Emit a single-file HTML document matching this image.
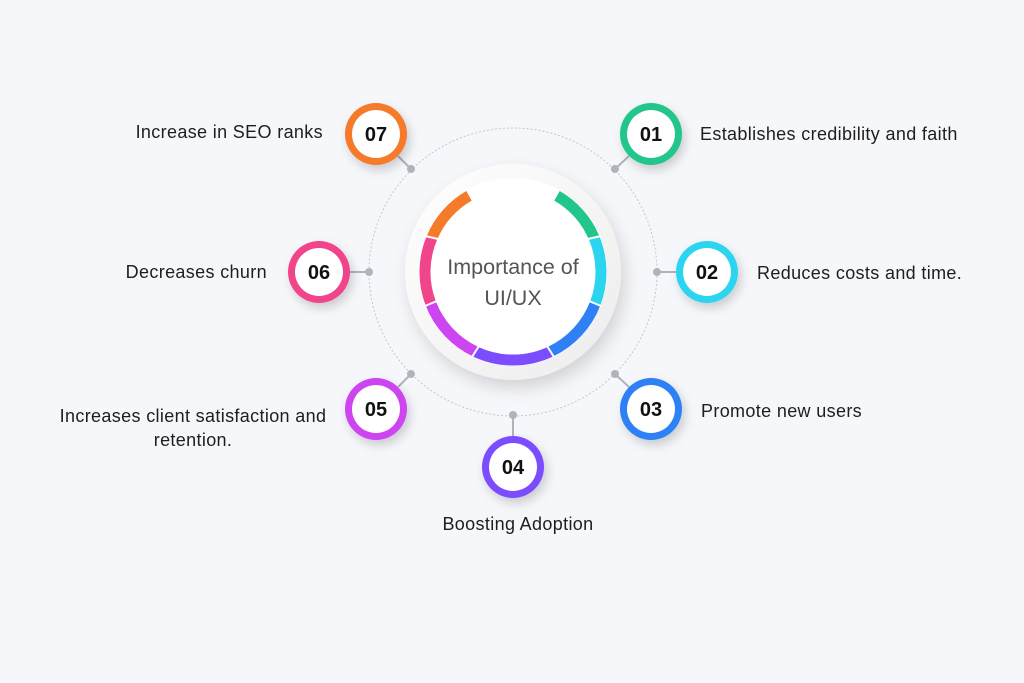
<!DOCTYPE html>
<html><head><meta charset="utf-8"><style>
html,body{margin:0;padding:0;background:#f6f7fb;}
svg{display:block}
text{font-family:"Liberation Sans",sans-serif;}
</style></head><body>
<svg width="1024" height="683" viewBox="0 0 1024 683" xmlns="http://www.w3.org/2000/svg">
<defs>
<filter id="sh" x="-30%" y="-30%" width="160%" height="160%"><feDropShadow dx="3" dy="5" stdDeviation="5" flood-color="#000" flood-opacity="0.18"/></filter>
<filter id="sh2" x="-30%" y="-30%" width="160%" height="160%"><feDropShadow dx="4" dy="8" stdDeviation="8" flood-color="#000" flood-opacity="0.15"/></filter>
<linearGradient id="disc" x1="0" y1="0" x2="1" y2="1"><stop offset="0" stop-color="#ffffff"/><stop offset="1" stop-color="#ececec"/></linearGradient>
</defs>
<rect width="1024" height="683" fill="#f6f7fb"/>
<circle cx="513" cy="272" r="144" fill="none" stroke="#c4c7cc" stroke-width="1" stroke-dasharray="2 2"/>
<g stroke="#b0b4ba" stroke-width="2">
<line x1="411" y1="169" x2="398" y2="156"/><line x1="615" y1="169" x2="629" y2="156"/>
<line x1="369" y1="272" x2="350" y2="272"/><line x1="657" y1="272" x2="676" y2="272"/>
<line x1="411" y1="374" x2="398" y2="387"/><line x1="615" y1="374" x2="629" y2="387"/>
<line x1="513" y1="415" x2="513" y2="436"/>
</g>
<g fill="#b0b4ba">
<circle cx="411" cy="169" r="4"/><circle cx="615" cy="169" r="4"/><circle cx="369" cy="272" r="4"/><circle cx="657" cy="272" r="4"/><circle cx="411" cy="374" r="4"/><circle cx="615" cy="374" r="4"/><circle cx="513" cy="415" r="4"/>
</g>
<circle cx="513" cy="272" r="108" fill="url(#disc)" filter="url(#sh2)"/>
<circle cx="513" cy="272" r="94" fill="#fff"/>
<g fill="none" stroke-width="11">
<path d="M557 195.8 A88 88 0 0 1 594 237.6" stroke="#22c68a"/>
<path d="M594 237.6 A88 88 0 0 1 595.2 303.5" stroke="#2bd5ef"/>
<path d="M595.2 303.5 A88 88 0 0 1 550.2 351.8" stroke="#2f80f5"/>
<path d="M550.2 351.8 A88 88 0 0 1 475.8 351.8" stroke="#7c4dff"/>
<path d="M475.8 351.8 A88 88 0 0 1 430.8 303.5" stroke="#cc45f0"/>
<path d="M430.8 303.5 A88 88 0 0 1 432 237.6" stroke="#f0458a"/>
<path d="M432 237.6 A88 88 0 0 1 469 195.8" stroke="#f57a2a"/>
</g>
<g stroke="#fff" stroke-width="2">
<line x1="588" y1="239" x2="601" y2="236"/><line x1="589" y1="301" x2="601" y2="306"/><line x1="547" y1="346" x2="554" y2="357"/><line x1="479" y1="346" x2="472" y2="357"/><line x1="437" y1="301" x2="425" y2="306"/><line x1="438" y1="239" x2="425" y2="236"/>
</g>
<text x="513" y="274" font-size="21.5" fill="#555" text-anchor="middle">Importance of</text>
<text x="513" y="305" font-size="21.5" fill="#555" text-anchor="middle">UI/UX</text>
<g font-size="20" font-weight="bold" fill="#111" text-anchor="middle">
<circle cx="376" cy="134" r="31" fill="#f57a2a" filter="url(#sh)"/><circle cx="376" cy="134" r="24" fill="#fff"/><text x="376" y="141">07</text>
<circle cx="651" cy="134" r="31" fill="#22c68a" filter="url(#sh)"/><circle cx="651" cy="134" r="24" fill="#fff"/><text x="651" y="141">01</text>
<circle cx="707" cy="272" r="31" fill="#2bd5ef" filter="url(#sh)"/><circle cx="707" cy="272" r="24" fill="#fff"/><text x="707" y="279">02</text>
<circle cx="319" cy="272" r="31" fill="#f0458a" filter="url(#sh)"/><circle cx="319" cy="272" r="24" fill="#fff"/><text x="319" y="279">06</text>
<circle cx="376" cy="409" r="31" fill="#cc45f0" filter="url(#sh)"/><circle cx="376" cy="409" r="24" fill="#fff"/><text x="376" y="416">05</text>
<circle cx="651" cy="409" r="31" fill="#2f80f5" filter="url(#sh)"/><circle cx="651" cy="409" r="24" fill="#fff"/><text x="651" y="416">03</text>
<circle cx="513" cy="467" r="31" fill="#7c4dff" filter="url(#sh)"/><circle cx="513" cy="467" r="24" fill="#fff"/><text x="513" y="474">04</text>
</g>
<g font-size="18" fill="#1e1e1e" letter-spacing="0.35">
<text x="323" y="138" text-anchor="end">Increase in SEO ranks</text>
<text x="700" y="140">Establishes credibility and faith</text>
<text x="757" y="279">Reduces costs and time.</text>
<text x="267" y="278" text-anchor="end">Decreases churn</text>
<text x="701" y="417">Promote new users</text>
<text x="193" y="422" text-anchor="middle">Increases client satisfaction and</text>
<text x="193" y="446" text-anchor="middle">retention.</text>
<text x="518" y="530" text-anchor="middle">Boosting Adoption</text>
</g>
</svg>
</body></html>
